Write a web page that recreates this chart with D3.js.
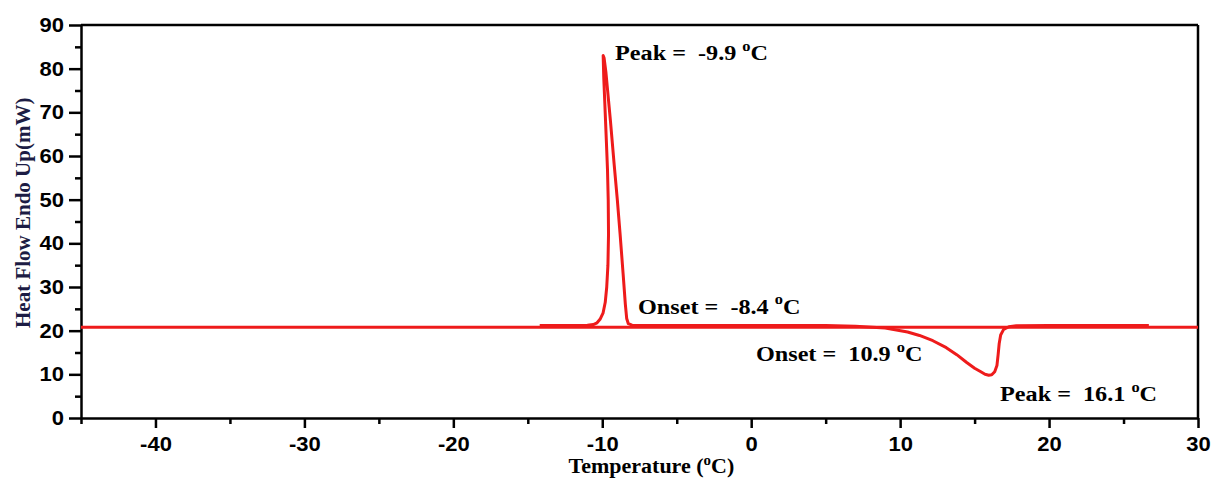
<!DOCTYPE html>
<html>
<head>
<meta charset="utf-8">
<script src="https://cdn.jsdelivr.net/npm/d3@7"></script>
<style>
body { margin: 0; background: #fff; }
text { white-space: pre; }
</style>
</head>
<body>
<svg id="vis"></svg>
<script>
// flat reference trace, runs under everything
var baseTemp = [-45, -20, 0, 30];
var baseFlow = [20.8, 20.8, 20.8, 20.8];

// scan with the sharp peak near -10 and the dip near 16
var scanTemp = [-14.2, -12, -11, -10.6, -10.35, -10.15, -9.95, -9.8, -9.7, -9.62, -9.58, -9.6, -9.65, -9.72, -9.78, -9.84, -9.9, -9.94,
    -9.88, -9.75, -9.45, -9.2, -8.99, -8.8, -8.6, -8.45, -8.36, -8.25, -8.0, -6, 0, 5, 7, 9, 10.5, 11.3, 12.2, 13.1, 13.8, 14.47,
    15.0, 15.36, 15.7, 15.95, 16.15, 16.35, 16.5, 16.58, 16.65, 16.75, 16.95, 17.3, 17.8, 20, 26.7];
var scanFlow = [21.2, 21.2, 21.25, 21.4, 21.8, 22.6, 24, 26.5, 30, 35, 42, 50, 57, 63, 68, 73, 78, 83,
    82.5, 79, 68, 58, 50, 42, 33, 26, 22.8, 21.6, 21.25, 21.2, 21.2, 21.2, 21.0, 20.6, 19.7, 18.9, 17.7, 16.1, 14.5, 12.7,
    11.4, 10.7, 10.0, 9.8, 9.9, 10.6, 12, 14.5, 17, 19, 20.3, 20.9, 21.15, 21.2, 21.2];

var xMajor = [-40, -30, -20, -10, 0, 10, 20, 30];
var xMinor = [-45, -35, -25, -15, -5, 5, 15, 25];
var yMajor = [0, 10, 20, 30, 40, 50, 60, 70, 80, 90];
var yMinor = [5, 15, 25, 35, 45, 55, 65, 75, 85];

var noteText = ["Peak =  -9.9 ", "Onset =  -8.4 ", "Onset =  10.9 ", "Peak =  16.1 "];
var noteTemp = [-9.14, -7.6, 0.32, 16.71];
var noteFlow = [82.0, 23.9, 13.1, 3.9];

var W = 1211, H = 481;
var margin = {top: 25, right: 13, bottom: 63, left: 81};
var stretch = 1.1;   // the reference text is a bit wide

var svg = d3.select("#vis").attr("width", W).attr("height", H);

var x = d3.scaleLinear().domain([-45, 30]).range([margin.left, W - margin.right]);
var y = d3.scaleLinear().domain([0, 90]).range([H - margin.bottom, margin.top]);

var sans = "'Liberation Sans', Arial, sans-serif";
var serif = "'Liberation Serif', 'Times New Roman', serif";
var plain = function(d) { return String(d); };   // keep the hyphen minus

// frame top + right
svg.append("line")
    .attr("x1", x(-45)).attr("x2", x(30))
    .attr("y1", y(90)).attr("y2", y(90))
    .attr("stroke", "#000").attr("stroke-width", 2.5);
svg.append("line")
    .attr("x1", x(30)).attr("x2", x(30))
    .attr("y1", y(90)).attr("y2", y(0))
    .attr("stroke", "#000").attr("stroke-width", 2.5);

// x axis
var xAxis = svg.append("g")
    .attr("transform", "translate(0," + y(0) + ")")
    .call(d3.axisBottom(x).tickValues(xMajor).tickFormat(plain).tickSize(10).tickPadding(9).tickSizeOuter(0));
svg.append("g")
    .attr("transform", "translate(0," + y(0) + ")")
    .call(d3.axisBottom(x).tickValues(xMinor).tickSize(6).tickFormat("").tickSizeOuter(0))
    .call(function(g) { g.select(".domain").remove(); })
    .selectAll("line").attr("stroke-width", 2.5);
xAxis.select(".domain").attr("stroke-width", 2.5);
xAxis.selectAll(".tick line").attr("stroke-width", 2.5);
xAxis.selectAll(".tick text")
    .attr("font-family", sans).attr("font-weight", "bold").attr("font-size", 20)
    .attr("fill", "#000")
    .attr("transform", "scale(" + stretch + ",1)")
    .attr("x", 0);

// y axis
var yAxis = svg.append("g")
    .attr("transform", "translate(" + x(-45) + ",0)")
    .call(d3.axisLeft(y).tickValues(yMajor).tickFormat(plain).tickSize(12).tickPadding(5).tickSizeOuter(0));
svg.append("g")
    .attr("transform", "translate(" + x(-45) + ",0)")
    .call(d3.axisLeft(y).tickValues(yMinor).tickSize(6).tickFormat("").tickSizeOuter(0))
    .call(function(g) { g.select(".domain").remove(); })
    .selectAll("line").attr("stroke-width", 2.5);
yAxis.select(".domain").attr("stroke-width", 2.5);
yAxis.selectAll(".tick line").attr("stroke-width", 2.5);
yAxis.selectAll(".tick text")
    .attr("font-family", sans).attr("font-weight", "bold").attr("font-size", 20)
    .attr("fill", "#000")
    .attr("x", -17 / stretch)
    .attr("transform", "scale(" + stretch + ",1)");

// traces
var line = d3.line()
    .x(function(d) { return x(d[0]); })
    .y(function(d) { return y(d[1]); });

svg.append("path")
    .datum(d3.zip(baseTemp, baseFlow))
    .attr("d", line)
    .attr("fill", "none")
    .attr("stroke", "#ee1b1b")
    .attr("stroke-width", 3);

svg.append("path")
    .datum(d3.zip(scanTemp, scanFlow))
    .attr("d", line)
    .attr("fill", "none")
    .attr("stroke", "#ee1b1b")
    .attr("stroke-width", 3)
    .attr("stroke-linejoin", "round");

// little helper for the "oC" bit
function degC(t, size) {
    t.append("tspan").text("o").attr("font-size", size * 0.68).attr("dy", -size * 0.42);
    t.append("tspan").text("C").attr("dy", size * 0.42);
}

// annotations
noteText.forEach(function(s, i) {
    var t = svg.append("g")
        .attr("transform", "translate(" + x(noteTemp[i]) + "," + y(noteFlow[i]) + ") scale(" + stretch + ",1)")
        .append("text")
        .attr("font-family", serif).attr("font-weight", "bold").attr("font-size", 22)
        .attr("fill", "#000");
    t.append("tspan").text(s);
    degC(t, 22);
});

// axis titles
var xt = svg.append("g")
    .attr("transform", "translate(" + x(-6.7) + "," + (H - 8) + ") scale(" + stretch + ",1)")
    .append("text")
    .attr("text-anchor", "middle")
    .attr("font-family", serif).attr("font-weight", "bold").attr("font-size", 20)
    .attr("fill", "#000");
xt.append("tspan").text("Temperature (");
degC(xt, 20);
xt.append("tspan").text(")");

svg.append("text")
    .attr("transform", "translate(30," + y(47) + ") rotate(-90)")
    .attr("text-anchor", "middle")
    .attr("font-family", serif).attr("font-weight", "bold").attr("font-size", 21)
    .attr("fill", "#1c1c44")
    .text("Heat Flow Endo Up(mW)");
</script>
</body>
</html>
